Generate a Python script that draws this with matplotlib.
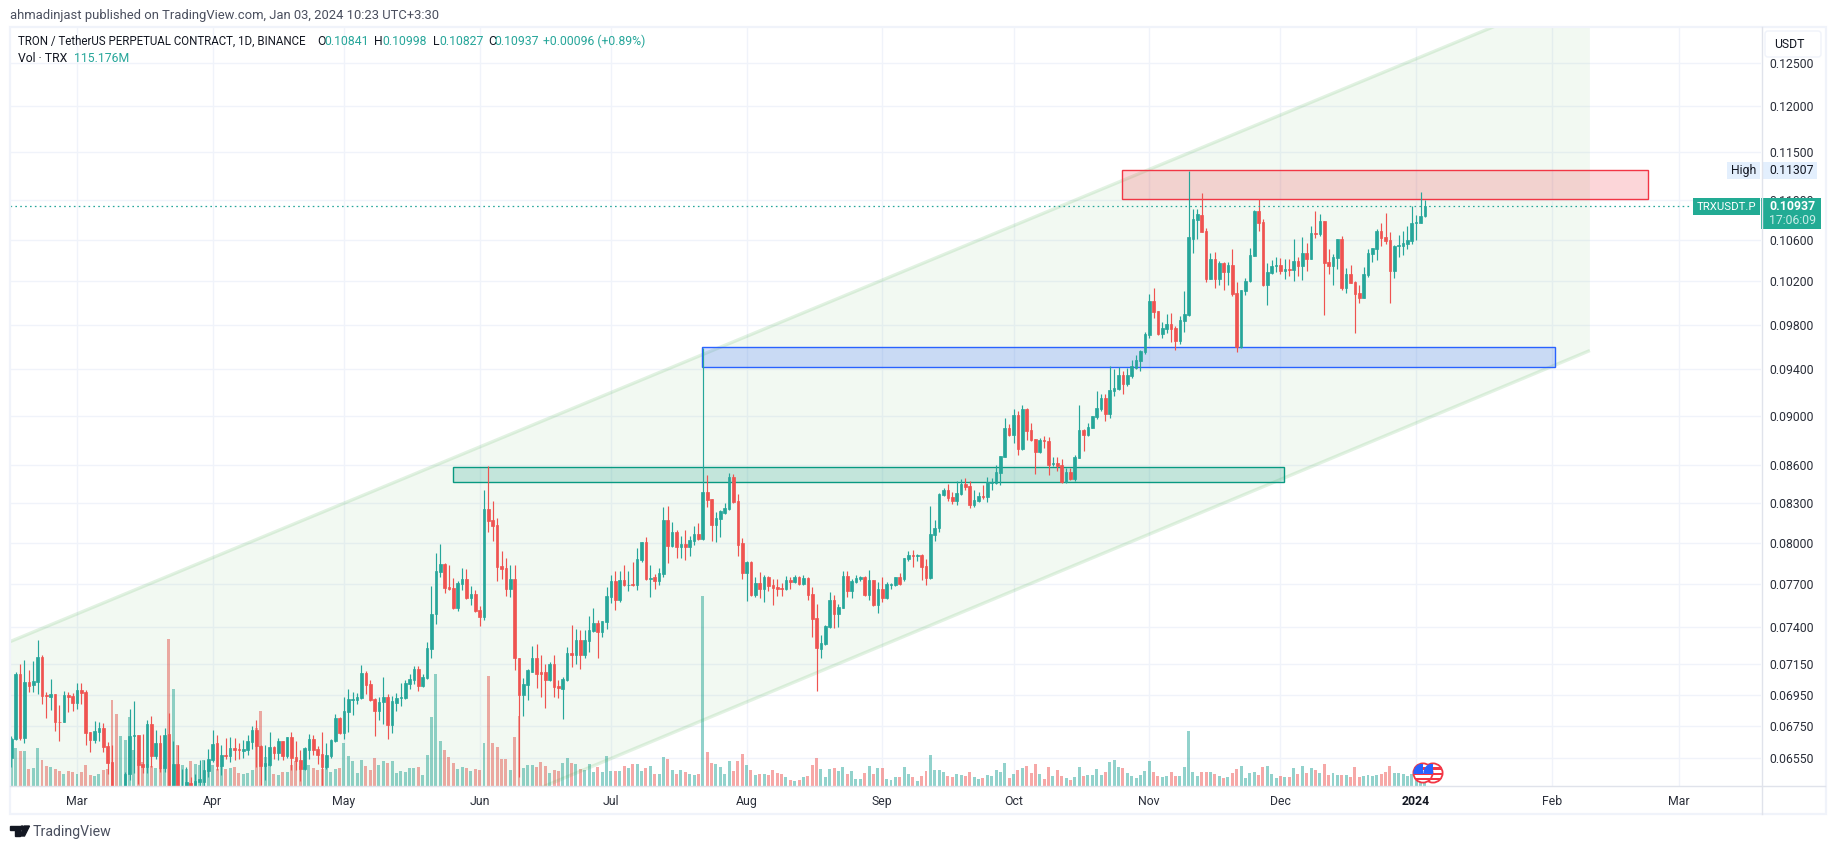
import matplotlib
matplotlib.use("Agg")
import matplotlib.pyplot as plt
import matplotlib.dates as mdates
import numpy as np
import pandas as pd
from matplotlib.patches import Rectangle, Polygon, Circle, FancyBboxPatch
from matplotlib.ticker import NullLocator

plt.rcParams['font.family'] = ['Roboto', 'DejaVu Sans']

W, H = 1835, 849
PRICE_UNIT = 1e-5

START_DATE = '2023-02-14'
OPEN = [
6553,6668,7083,6676,7031,7011,7031,7196,6944,6933,
6952,6778,6774,6946,6940,6894,6978,6965,6711,6661,
6711,6736,6624,6526,6370,6340,6360,6458,6686,6692,
6514,6496,6761,6563,6643,6490,6698,6375,6514,6340,
6370,6404,6375,6408,6408,6472,6539,6643,6502,6569,
6563,6612,6606,6593,6600,6649,6724,6624,6502,6508,
6618,6581,6655,6563,6680,6557,6539,6484,6600,6668,
6606,6575,6496,6563,6655,6799,6705,6837,6913,6913,
6927,7089,7017,6920,6843,6900,6933,6755,6894,6927,
6927,7017,7044,7116,7004,7056,7252,7488,7786,7845,
7678,7671,7530,7699,7735,7600,7628,7516,7468,8255,
8171,8133,7829,7814,7663,7735,7193,6944,7009,7100,
7187,7094,7094,7042,7153,7003,6983,7042,7220,7207,
7308,7207,7301,7370,7424,7363,7431,7606,7720,7585,
7727,7691,7698,7691,7873,8005,7735,7749,7720,7770,
8171,7977,8080,7970,7992,7970,8013,8065,8028,8386,
8332,8133,8178,8224,8255,8504,8316,7998,7777,7858,
7620,7705,7663,7749,7691,7677,7670,7663,7727,7713,
7749,7698,7742,7627,7459,7248,7281,7397,7585,7493,
7535,7756,7648,7713,7735,7749,7620,7727,7550,7663,
7599,7691,7691,7749,7736,7882,7911,7904,7911,7831,
7744,8060,8112,8364,8404,8349,8318,8372,8451,8435,
8288,8318,8356,8349,8458,8458,8537,8666,8902,8844,
9011,8730,9061,8886,8811,8706,8803,8795,8609,8617,
8601,8466,8545,8490,8658,8886,8844,8902,8994,9060,
9154,9022,9214,9234,9355,9277,9343,9413,9474,9555,
9706,10017,9924,9714,9760,9805,9769,9651,9833,9887,
10610,10799,10850,10689,10224,10416,10224,10377,10291,10358,
10092,9597,10110,10205,10445,10890,10779,10167,10281,10348,
10358,10300,10319,10310,10396,10348,10474,10416,10670,10660,
10789,10387,10348,10425,10611,10137,10272,10195,10092,10045,
10262,10464,10513,10689,10630,10601,10300,10542,10542,10562,
10591,10769,10769,10841]
HIGH = [
6686,7098,7153,7176,7113,7169,7310,7209,6968,7050,
6952,6881,6972,6968,6957,7028,7028,6978,6711,6780,
6776,6770,6649,6631,6375,6370,6468,6855,6907,6692,
6698,6786,6811,6724,6692,6736,6830,6655,6631,6488,
6498,6438,6454,6543,6543,6610,6724,6692,6631,6678,
6682,6672,6645,6661,6692,6749,6786,6630,6631,6711,
6624,6674,6655,6680,6711,6655,6600,6620,6698,6692,
6624,6711,6647,6668,6824,6805,6933,6985,6965,6959,
7142,7102,7044,6925,6933,7063,6952,6940,6959,7024,
7044,7083,7135,7135,7083,7298,7685,7925,7992,7852,
7837,7743,7721,7815,7808,7685,7657,7544,8402,8591,
8316,8186,7940,7888,7836,7836,7193,7055,7120,7268,
7281,7207,7153,7166,7207,7042,7061,7261,7411,7383,
7377,7377,7473,7534,7445,7440,7683,7765,7793,7793,
7836,7793,7858,7962,8005,8043,7836,7770,7814,8270,
8278,8155,8095,8050,8095,8050,8125,8148,9590,8520,
8332,8232,8248,8301,8535,8527,8370,8035,7866,7866,
7749,7785,7765,7756,7735,7735,7705,7756,7749,7765,
7756,7765,7749,7677,7557,7343,7411,7642,7620,7557,
7793,7793,7735,7765,7756,7756,7800,7730,7713,7749,
7713,7705,7752,7777,7892,7941,7948,7919,7919,7882,
8280,8172,8380,8419,8451,8388,8474,8490,8498,8474,
8404,8388,8443,8506,8500,8601,8676,8985,8936,9061,
9044,9094,9065,8945,8815,8819,8836,8827,8666,8666,
8650,8577,8577,8682,9094,8890,8945,9005,9214,9188,
9188,9430,9404,9421,9386,9413,9483,9528,9572,9733,
10083,10137,9926,9824,9896,9905,9787,9878,10110,11307,
10910,10910,11073,10719,10474,10484,10396,10387,10387,10513,
10196,10122,10233,10523,10900,11009,10809,10377,10406,10435,
10425,10416,10416,10610,10435,10630,10571,10739,10890,10860,
10792,10513,10464,10615,10640,10329,10358,10205,10167,10339,
10513,10525,10709,10769,10870,10680,10552,10650,10689,10739,
10940,10850,11083,10998]
LOW = [
6498,6661,6661,6645,6968,6968,6952,6892,6801,6850,
6720,6657,6774,6839,6846,6860,6892,6631,6589,6645,
6657,6589,6454,6350,6320,6310,6340,6418,6462,6398,
6462,6462,6498,6549,6466,6466,6360,6360,6350,6320,
6350,6360,6360,6380,6380,6438,6528,6478,6448,6549,
6528,6543,6549,6555,6569,6610,6498,6388,6418,6502,
6549,6539,6539,6555,6478,6478,6412,6478,6545,6569,
6514,6382,6488,6551,6650,6700,6668,6711,6817,6888,
6920,6952,6907,6686,6786,6761,6668,6705,6843,6875,
6920,6985,7017,6972,7000,7050,7190,7418,7750,7636,
7657,7523,7511,7657,7593,7551,7504,7405,7445,8080,
8013,7720,7735,7613,7606,7107,6436,6810,6912,7094,
6990,6931,6861,7035,6931,6925,6791,7035,7127,7147,
7120,7193,7227,7365,7187,7330,7384,7564,7515,7571,
7684,7648,7684,7656,7858,7727,7606,7663,7691,7755,
7851,7972,7888,7888,7873,7902,7985,8023,8020,8270,
8013,8005,8043,8218,8250,8301,7902,7735,7578,7613,
7606,7599,7571,7648,7550,7613,7613,7656,7663,7705,
7691,7691,7585,7330,6976,7187,7276,7390,7390,7397,
7530,7606,7599,7710,7720,7613,7585,7543,7500,7571,
7592,7663,7686,7691,7722,7867,7824,7867,7729,7693,
7736,8014,8082,8356,8318,8295,8288,8364,8404,8265,
8272,8311,8334,8311,8404,8451,8443,8662,8836,8779,
8682,8722,8803,8798,8529,8700,8738,8522,8593,8554,
8461,8462,8486,8474,8654,8714,8836,8898,8977,9043,
8964,8989,9171,9223,9191,9260,9325,9404,9386,9537,
9679,9860,9705,9678,9724,9642,9571,9624,9733,9880,
10474,10611,10675,10197,10220,10137,10167,10120,10167,10063,
9553,9588,10073,10195,10440,10689,10158,9979,10272,10291,
10272,10224,10252,10205,10252,10214,10300,10412,10620,10640,
9887,10272,10167,10319,10120,10092,10182,9724,9998,10040,
10246,10387,10406,10542,10562,9998,10233,10435,10455,10513,
10562,10601,10765,10827]
CLOSE = [
6671,7083,6676,7031,7004,7037,7196,6940,6940,6952,
6776,6776,6946,6933,6894,6978,6959,6705,6661,6718,
6736,6618,6520,6370,6340,6350,6458,6686,6692,6508,
6496,6761,6563,6643,6490,6692,6375,6514,6370,6370,
6408,6375,6412,6424,6478,6545,6637,6502,6569,6563,
6612,6600,6602,6606,6655,6724,6624,6502,6520,6618,
6581,6655,6563,6680,6551,6532,6484,6612,6668,6600,
6569,6496,6569,6661,6799,6705,6843,6920,6920,6933,
7089,7011,6913,6843,6900,6933,6755,6907,6927,6933,
7024,7050,7116,7004,7063,7256,7492,7794,7845,7671,
7664,7530,7706,7735,7600,7628,7511,7467,8255,8163,
8125,7822,7807,7663,7735,7187,6944,7016,7107,7187,
7087,7087,7042,7153,6996,6990,7048,7220,7207,7308,
7207,7308,7377,7424,7363,7438,7613,7720,7585,7727,
7691,7696,7691,7880,8005,7735,7742,7720,7777,8171,
7977,8080,7970,7992,7970,8020,8065,8028,8386,8324,
8133,8186,8240,8263,8504,8308,7985,7777,7858,7620,
7705,7663,7749,7684,7670,7663,7663,7727,7713,7749,
7698,7742,7620,7452,7254,7288,7404,7585,7493,7542,
7756,7648,7720,7742,7749,7620,7727,7550,7663,7599,
7698,7698,7749,7698,7889,7911,7904,7911,7824,7744,
8067,8112,8372,8404,8342,8318,8380,8451,8427,8288,
8326,8356,8349,8466,8466,8545,8674,8902,8844,9011,
8730,9061,8877,8803,8706,8803,8795,8601,8617,8593,
8466,8545,8490,8666,8886,8844,8914,9003,9069,9154,
9022,9223,9240,9355,9277,9355,9430,9483,9563,9715,
10018,9915,9714,9769,9805,9760,9651,9842,9896,10630,
10808,10860,10679,10224,10416,10224,10377,10291,10358,10082,
9597,10120,10205,10455,10890,10769,10167,10291,10348,10358,
10300,10319,10310,10396,10348,10474,10416,10670,10660,10789,
10377,10348,10435,10611,10137,10272,10186,10082,10045,10272,
10474,10523,10689,10620,10591,10300,10542,10552,10571,10601,
10769,10779,10840,10937]
VOLUME_M = [
858,684,630,630,306,324,684,468,360,342,
306,270,216,270,252,216,252,378,198,180,
216,288,306,1548,1296,900,828,1242,648,468,
432,396,360,324,324,378,2646,1746,738,378,
306,450,396,378,468,468,378,306,360,306,
324,342,234,216,234,288,1044,1350,522,396,
216,198,252,252,378,450,360,342,378,324,
288,306,360,252,306,324,774,540,450,234,
468,360,288,504,378,450,414,450,234,270,
252,324,324,342,198,558,1242,2016,810,648,
522,414,306,342,324,270,306,288,774,1980,
774,702,486,486,288,882,1260,324,378,378,
342,432,360,234,288,270,414,504,414,396,
306,288,396,252,342,252,540,270,270,270,
360,324,396,396,270,324,360,216,216,522,
486,288,216,288,252,216,198,216,3420,612,
414,396,342,216,450,270,450,576,378,288,
198,216,216,198,288,234,216,162,108,90,
108,162,180,378,504,306,162,306,324,270,
342,216,270,126,126,234,360,216,324,324,
126,108,162,162,342,216,162,90,180,270,
558,288,288,252,180,162,216,198,180,252,
162,126,144,198,180,288,252,414,144,216,
288,324,360,234,396,216,126,342,180,288,
180,144,108,162,342,180,198,198,306,198,
252,432,468,342,324,234,180,144,198,270,
450,252,180,162,180,252,180,180,342,990,
252,180,252,252,252,216,180,144,162,234,
306,360,144,234,252,198,342,360,216,144,
180,162,162,324,216,360,234,324,288,234,
396,198,234,198,198,198,162,342,162,180,
198,180,198,216,252,360,234,234,216,180,
216,198,126,115]

PRICE_TICKS = [0.125,0.12,0.115,0.11,0.106,0.102,0.098,0.094,0.09,0.086,0.083,0.08,0.077,0.074,0.0715,0.0695,0.0675,0.0655]
MONTH_DATES = ['2023-03-01','2023-04-01','2023-05-01','2023-06-01','2023-07-01','2023-08-01','2023-09-01',
               '2023-10-01','2023-11-01','2023-12-01','2024-01-01','2024-02-01','2024-03-01']
MONTH_LABELS = ['Mar','Apr','May','Jun','Jul','Aug','Sep','Oct','Nov','Dec','2024','Feb','Mar']

LAST_PRICE = 0.10937
SESSION_HIGH = 0.11307

# drawings: day offsets from 1 Mar 2023 and prices
CHANNEL_DAYS = [-15.3, 345.7]
CHANNEL_UPPER = [0.0730, 0.13411]
CHANNEL_LOWER = [0.0519, 0.09566]
ZONE_DAYS = [(86.0, 275.8), (142.9, 337.7), (238.8, 359.0)]
ZONE_PRICES = [(0.08463, 0.08584), (0.09419, 0.09595), (0.11009, 0.11310)]
ZONE_COLORS = ['#089981', '#2962ff', '#f23645']

UP, DOWN = '#26a69a', '#ef5350'
TEXT = '#131722'

fig = plt.figure(figsize=(W/100, H/100), dpi=100, facecolor='white')
L_, R_, T_, B_ = 10, 1761, 27, 786
rect = [L_/W, 1-B_/H, (R_-L_)/W, (B_-T_)/H]

o, h, l, c = (np.array(a)*PRICE_UNIT for a in (OPEN, HIGH, LOW, CLOSE))
vol = np.array(VOLUME_M, float)
dates = mdates.date2num(pd.date_range(START_DATE, periods=len(o)).to_pydatetime())
base = mdates.date2num(pd.Timestamp('2023-03-01').to_pydatetime())
month_x = mdates.date2num(pd.to_datetime(MONTH_DATES).to_pydatetime())
xlim = (base-15.31, base+384.8)
ylim = (0.06384, 0.12919)
colors = np.where(c >= o, UP, DOWN)

# grid layer
ax_grid = fig.add_axes(rect, zorder=0)
ax_grid.set_yscale('log')
ax_grid.set_xlim(xlim); ax_grid.set_ylim(ylim)
for p in PRICE_TICKS:
    ax_grid.axhline(p, color='#f0f3fa', lw=1.0)
for m in month_x:
    ax_grid.axvline(m, color='#f0f3fa', lw=1.0)
ax_grid.axis('off')
ax_grid.set_facecolor('white')

# volume layer
ax_vol = fig.add_axes(rect, zorder=1)
ax_vol.patch.set_alpha(0)
ax_vol.bar(dates, vol, width=0.68, color=colors, alpha=0.5, linewidth=0)
ax_vol.set_xlim(xlim); ax_vol.set_ylim(0, 13662)
ax_vol.axis('off')

# price layer
ax = fig.add_axes(rect, zorder=2)
ax.patch.set_alpha(0)
ax.set_yscale('log')
xs = [base+d for d in CHANNEL_DAYS]
ax.add_patch(Polygon([(xs[0], CHANNEL_UPPER[0]), (xs[1], CHANNEL_UPPER[1]),
                      (xs[1], CHANNEL_LOWER[1]), (xs[0], CHANNEL_LOWER[0])],
                     closed=True, facecolor='#4caf50', alpha=0.07, edgecolor='none', zorder=1))
ax.plot(xs, CHANNEL_UPPER, color='#4caf50', alpha=0.16, lw=2.4, zorder=1.5, solid_capstyle='butt')
ax.plot(xs, CHANNEL_LOWER, color='#4caf50', alpha=0.16, lw=2.4, zorder=1.5, solid_capstyle='butt')
for (d0, d1), (p0, p1), col in zip(ZONE_DAYS, ZONE_PRICES, ZONE_COLORS):
    ax.add_patch(Rectangle((base+d0, p0), d1-d0, p1-p0, facecolor=col, alpha=0.2, edgecolor='none', zorder=2))
    ax.add_patch(Rectangle((base+d0, p0), d1-d0, p1-p0, facecolor='none', edgecolor=col, lw=1.0, zorder=2.5))
ax.vlines(dates, l, h, colors=colors, lw=0.85, zorder=3)
ax.bar(dates, np.abs(c-o), bottom=np.minimum(o, c), width=0.6, color=colors,
       edgecolor=colors, linewidth=0.5, zorder=4)
ax.plot([xlim[0], base+368.8], [LAST_PRICE, LAST_PRICE], color=UP, lw=0.9,
        linestyle=(0, (1.3, 2.6)), zorder=5)

ax.set_xlim(xlim); ax.set_ylim(ylim)
ax.yaxis.tick_right()
ax.yaxis.set_minor_locator(NullLocator())
ax.set_yticks(PRICE_TICKS)
ax.set_yticklabels([f'{p:.5f}' for p in PRICE_TICKS])
ax.yaxis.set_minor_locator(NullLocator())
ax.set_xticks(month_x)
ax.set_xticklabels(MONTH_LABELS)
ax.tick_params(axis='both', which='both', length=0, labelsize=8.8, labelcolor='#2a2e39')
ax.tick_params(axis='y', pad=5.8)
ax.tick_params(axis='x', pad=6.8)
for lab, txt in zip(ax.get_xticklabels(), MONTH_LABELS):
    if txt == '2024':
        lab.set_fontweight('bold')
        lab.set_color(TEXT)
for s in ax.spines.values():
    s.set_visible(False)

# chrome layer in pixel coordinates
px = fig.add_axes([0, 0, 1, 1], zorder=10)
px.set_xlim(0, W); px.set_ylim(H, 0); px.axis('off'); px.patch.set_alpha(0)
px.add_patch(Rectangle((10, 27), 1816, 787, fill=False, edgecolor='#f0f3fa', lw=1.6))
px.plot([1761.5, 1761.5], [27, 814], color='#e0e3eb', lw=1.0)
px.plot([10, 1825], [786, 786], color='#e0e3eb', lw=1.0)

fs = 8.8
px.text(10, 15, 'ahmadinjast published on TradingView.com, Jan 03, 2024 10:23 UTC+3:30',
        fontsize=9.4, color='#4a4f5e', va='center')
px.text(18, 41, 'TRON / TetherUS PERPETUAL CONTRACT, 1D, BINANCE', fontsize=8.3, color=TEXT, va='center')
for x_, s, col in [(317,'O',TEXT),(324,'0.10841',UP),(374,'H',TEXT),(382,'0.10998',UP),(433,'L',TEXT),(439,'0.10827',UP),
                   (488,'C',TEXT),(494,'0.10937',UP),(543,'+0.00096 (+0.89%)',UP)]:
    px.text(x_, 41, s, fontsize=fs, color=col, va='center')
px.text(18, 58, 'Vol · TRX', fontsize=fs, color=TEXT, va='center')
px.text(74, 58, '115.176M', fontsize=fs, color=UP, va='center')

# USDT button
px.add_patch(FancyBboxPatch((1767, 33), 52, 22, boxstyle='round,pad=2,rounding_size=3',
                            facecolor='white', edgecolor='#f0f3fa', lw=1.0))
px.text(1774, 44, 'USDT', fontsize=fs, color=TEXT, va='center')

# High labels
px.add_patch(Rectangle((1727, 162), 33, 17, facecolor='#e3effd', edgecolor='none'))
px.add_patch(Rectangle((1762, 162), 55, 17, facecolor='#e3effd', edgecolor='none'))
px.text(1743.5, 170.5, 'High', fontsize=fs, color=TEXT, va='center', ha='center')
px.text(1769, 170.5, f'{SESSION_HIGH:.5f}', fontsize=fs, color=TEXT, va='center')

# Last price labels
px.add_patch(Rectangle((1693, 198), 67, 17, facecolor='#22ab94', edgecolor='none'))
px.add_patch(Rectangle((1761, 198), 60, 31, facecolor='#22ab94', edgecolor='none'))
px.text(1726.5, 206.5, 'TRXUSDT.P', fontsize=8.2, color='white', va='center', ha='center')
px.text(1769, 206.5, f'{LAST_PRICE:.5f}', fontsize=fs, color='white', va='center', fontweight='bold')
px.text(1769, 220.5, '17:06:09', fontsize=fs, color='#c8ece7', va='center')

# event flags
for cx in (1433, 1423):
    circ = Circle((cx, 773), 9.6, facecolor='white', edgecolor='#f23645', lw=1.3, zorder=20)
    px.add_patch(circ)
    for y0 in (767, 772.5, 777.5):
        st = Rectangle((cx-10, y0), 20, 2.8, facecolor='#f23645', edgecolor='none', zorder=21)
        px.add_patch(st); st.set_clip_path(circ)
    can = Rectangle((cx-10, 764), 10, 10, facecolor='#2962ff', edgecolor='none', zorder=22)
    px.add_patch(can); can.set_clip_path(circ)

# TradingView logo
LOGO = '#131722'
px.add_patch(Polygon([(10,826),(19.5,826),(19.5,836),(15,836),(15,830),(10,830)], closed=True, color=LOGO))
px.add_patch(Circle((22.2, 828), 2.0, color=LOGO))
px.add_patch(Polygon([(24.5,826),(29.5,826),(24.5,836),(19.7,836)], closed=True, color=LOGO))
px.text(33, 832, 'TradingView', fontsize=10.2, color='#4a4f5e', va='center')

fig.savefig('out.png', dpi=100, facecolor='white')
